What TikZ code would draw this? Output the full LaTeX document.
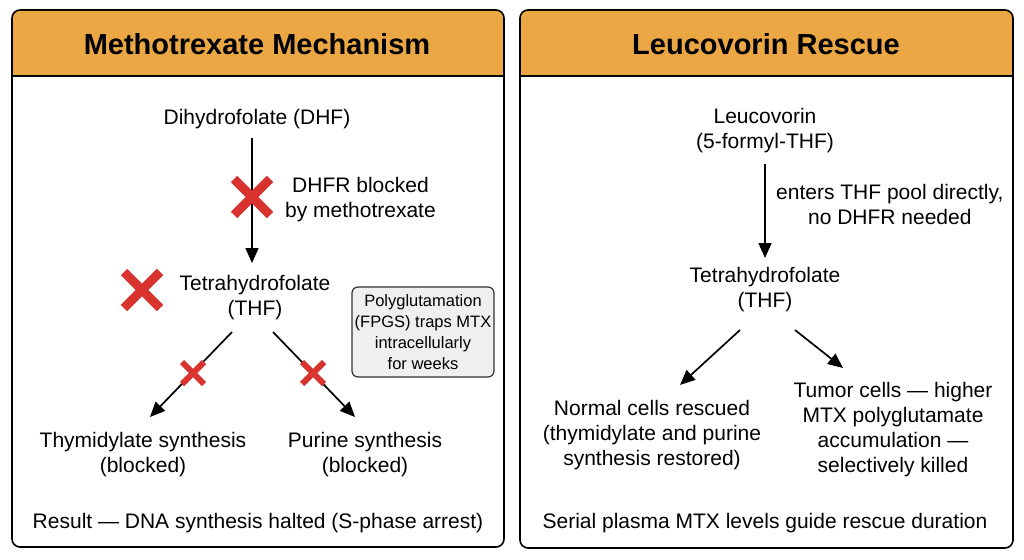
\documentclass[tikz,border=0pt]{standalone}
\usepackage{fontspec}
\setmainfont{Liberation Sans}
\usetikzlibrary{arrows.meta,calc}
\definecolor{hdr}{HTML}{EBA744}
\definecolor{xred}{HTML}{D9332F}
\definecolor{notebg}{HTML}{EFEFEF}
\tikzset{
  txt/.style={align=center,inner sep=0pt,font=\fontsize{21}{25}\selectfont},
  ttl/.style={inner sep=0pt,font=\fontsize{29}{33}\selectfont\bfseries},
  note/.style={draw=black!80,line width=1.2pt,fill=notebg,rounded corners=6pt,align=center,inner sep=0pt,minimum width=142pt,minimum height=90pt,font=\fontsize{16.5}{21}\selectfont},
  arr/.style={line width=1.7pt,-{Triangle[length=15pt,width=13pt]}},
  panel/.style={line width=1.6pt,rounded corners=8pt},
  bigx/.style={xred,line width=9pt},
  smallx/.style={xred,line width=6pt},
}
\begin{document}
\begin{tikzpicture}[x=1pt,y=-1pt]
\useasboundingbox (0,0) rectangle (1024,559);
% left panel
\begin{scope}
\clip[rounded corners=8pt] (12,10) rectangle (504,547);
\fill[white] (12,10) rectangle (504,547);
\fill[hdr] (12,10) rectangle (504,76);
\end{scope}
\draw[line width=1.6pt] (12,76) -- (504,76);
\draw[panel] (12,10) rectangle (504,547);
% right panel
\begin{scope}
\clip[rounded corners=8pt] (520,10) rectangle (1013,548);
\fill[white] (520,10) rectangle (1013,548);
\fill[hdr] (520,10) rectangle (1013,76);
\end{scope}
\draw[line width=1.6pt] (520,76) -- (1013,76);
\draw[panel] (520,10) rectangle (1013,548);

% titles
\node[ttl] (t1) at (257,44) {Methotrexate Mechanism};
\node[ttl] (t2) at (766,44) {Leucovorin Rescue};

% left content
\node[txt] (dhf) at (257,119) {Dihydrofolate (DHF)};
\node[txt] (thf) at (255,298) {Tetrahydrofolate\\(THF)};
\node[txt,anchor=west] (dhfr) at (285,200) {DHFR blocked\\by methotrexate};
\node[note] (poly) at (423,332) {Polyglutamation\\(FPGS) traps MTX\\intracellularly\\for weeks};
\node[txt] (thy) at (143,455) {Thymidylate synthesis\\(blocked)};
\node[txt] (pur) at (365,455) {Purine synthesis\\(blocked)};
\node[txt] (res) at (258,523) {Result — DNA synthesis halted (S-phase arrest)};

\draw[arr] ($(dhf)+(-5,19)$) -- ($(thf)+(-3,-35)$);
\draw[arr] ($(thf)+(-23,34)$) -- ($(thy)+(7,-38)$);
\draw[arr] ($(thf)+(18,34)$) -- ($(pur)+(-10,-38)$);

% X marks
\coordinate (x1) at (252,197);
\coordinate (x2) at (142,290);
\coordinate (x3) at (193,373);
\coordinate (x4) at (313,373);
\draw[bigx] ($(x1)+(-18,-18)$) -- ($(x1)+(18,18)$) ($(x1)+(-18,18)$) -- ($(x1)+(18,-18)$);
\draw[bigx] ($(x2)+(-18,-18)$) -- ($(x2)+(18,18)$) ($(x2)+(-18,18)$) -- ($(x2)+(18,-18)$);
\draw[smallx] ($(x3)+(-11,-11)$) -- ($(x3)+(11,11)$) ($(x3)+(-11,11)$) -- ($(x3)+(11,-11)$);
\draw[smallx] ($(x4)+(-11,-11)$) -- ($(x4)+(11,11)$) ($(x4)+(-11,11)$) -- ($(x4)+(11,-11)$);

% right content
\node[txt] (leu) at (765,131) {Leucovorin\\(5-formyl-THF)};
\node[txt,anchor=west] (enter) at (776,204) {enters THF pool directly,\\no DHFR needed};
\node[txt] (thf2) at (765,290) {Tetrahydrofolate\\(THF)};
\node[txt] (norm) at (652,435) {Normal cells rescued\\(thymidylate and purine\\synthesis restored)};
\node[txt] (tum) at (893,430) {Tumor cells — higher\\MTX polyglutamate\\accumulation —\\selectively killed};
\node[txt] (ser) at (765,523) {Serial plasma MTX levels guide rescue duration};

\draw[arr] ($(leu)+(0,33)$) -- ($(thf2)+(0,-32)$);
\draw[arr] ($(thf2)+(-25,40)$) -- ($(norm)+(28,-50)$);
\draw[arr] ($(thf2)+(30,40)$) -- ($(tum)+(-50,-62)$);
\end{tikzpicture}
\end{document}
